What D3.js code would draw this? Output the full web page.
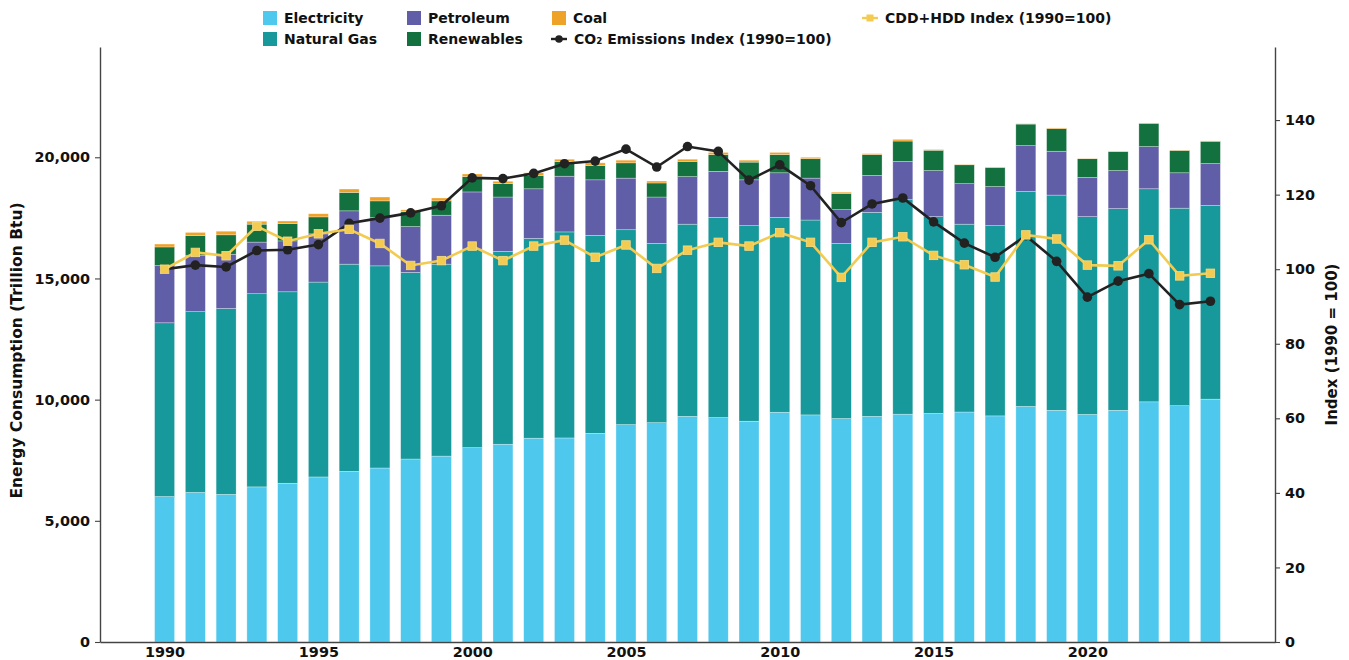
<!DOCTYPE html>
<html>
<head>
<meta charset="utf-8">
<script src="https://cdn.jsdelivr.net/npm/d3@7/dist/d3.min.js"></script>
<style>
  body { margin: 0; background: #fff; }
  svg { display: block; font-family: "DejaVu Sans", sans-serif; }
</style>
</head>
<body>
<div id="chart"></div>
<script>
const years = d3.range(1990, 2025);

// trillion Btu
const electricity = [6000, 6170, 6090, 6400, 6550, 6810, 7040, 7180, 7550, 7670,
  8020, 8160, 8410, 8420, 8610, 8970, 9050, 9310, 9260, 9110,
  9480, 9370, 9220, 9310, 9400, 9430, 9490, 9330, 9720, 9560,
  9390, 9560, 9910, 9750, 10020];
const naturalGas = [7170, 7460, 7670, 7970, 7900, 8040, 8550, 8340, 7700, 7920,
  8190, 7960, 8240, 8500, 8170, 8040, 7400, 7930, 8260, 8070,
  8040, 8040, 7230, 8420, 8850, 8120, 7750, 7850, 8870, 8880,
  8160, 8320, 8790, 8150, 7990];
const petroleum = [2360, 2330, 2240, 2130, 2100, 1990, 2200, 1990, 1890, 2020,
  2360, 2240, 2050, 2300, 2290, 2130, 1910, 1960, 1900, 1890,
  1840, 1730, 1390, 1520, 1580, 1900, 1670, 1610, 1890, 1810,
  1620, 1570, 1740, 1460, 1730];
const renewables = [770, 810, 800, 740, 710, 700, 760, 690, 620, 590,
  630, 550, 550, 600, 590, 630, 580, 630, 690, 730,
  750, 800, 670, 860, 840, 840, 780, 780, 890, 930,
  770, 780, 960, 920, 920];
const coal = [120, 130, 150, 120, 110, 130, 140, 160, 70, 120,
  110, 100, 110, 100, 110, 110, 80, 90, 90, 80,
  90, 60, 50, 40, 70, 30, 20, 30, 15, 30,
  15, 30, 15, 15, 15];

const co2Index = [100, 101.1, 100.6, 105.0, 105.2, 106.6, 112.3, 113.7, 115.1, 117.0,
  124.5, 124.3, 125.7, 128.3, 129.0, 132.2, 127.4, 132.9, 131.6, 123.9,
  128.0, 122.4, 112.5, 117.5, 119.1, 112.7, 107.0, 103.2, 109.0, 102.1,
  92.5, 96.8, 98.8, 90.5, 91.4];
const degreeDayIndex = [100, 104.5, 103.6, 111.5, 107.5, 109.5, 110.7, 106.9, 101.0, 102.3,
  106.2, 102.3, 106.2, 107.8, 103.2, 106.5, 100.2, 105.1, 107.2, 106.2,
  109.8, 107.2, 97.8, 107.2, 108.7, 103.7, 101.2, 97.9, 109.2, 108.1,
  101.1, 100.9, 107.9, 98.2, 98.9];

const seriesKeys = ["Electricity", "Natural Gas", "Petroleum", "Renewables", "Coal"];
const seriesValues = [electricity, naturalGas, petroleum, renewables, coal];
const colors = ["#4fc8ee", "#17989a", "#615ea8", "#13703f", "#efa228"];
const leftTicks = [0, 5000, 10000, 15000, 20000];
const rightTicks = [0, 20, 40, 60, 80, 100, 120, 140];
const xTicks = [1990, 1995, 2000, 2005, 2010, 2015, 2020];

const W = 1349, H = 660;
const margin = { top: 47, right: 74, bottom: 18, left: 100 };
const width = W - margin.left - margin.right;
const height = H - margin.top - margin.bottom;

const rows = years.map((y, i) => {
  const r = { year: y };
  seriesKeys.forEach((k, j) => r[k] = seriesValues[j][i]);
  return r;
});

const svg = d3.select("#chart").append("svg")
  .attr("width", W)
  .attr("height", H);

const g = svg.append("g").attr("transform", `translate(${margin.left},${margin.top})`);

const x = d3.scaleLinear().domain([1987.9, 2026.1]).range([0, width]);
const y = d3.scaleLinear().domain([0, 24550]).range([height, 0]);
const y2 = d3.scaleLinear().domain([0, 159.6]).range([height, 0]);
const barW = x(1990.65) - x(1990);

const stack = d3.stack().keys(seriesKeys)(rows);

g.selectAll("g.layer")
  .data(stack)
  .enter()
  .append("g")
  .attr("class", "layer")
  .attr("fill", (d, i) => colors[i])
  .selectAll("rect")
  .data(d => d)
  .enter()
  .append("rect")
  .attr("x", d => x(d.data.year) - barW / 2)
  .attr("y", d => y(d[1]))
  .attr("width", barW)
  .attr("height", d => y(d[0]) - y(d[1]))
  .attr("stroke", "#fff")
  .attr("stroke-opacity", 0.5)
  .attr("stroke-width", 0.6);

// index lines
const line = d3.line()
  .x((d, i) => x(years[i]))
  .y(d => y2(d));

g.append("path")
  .datum(co2Index)
  .attr("d", line)
  .attr("fill", "none")
  .attr("stroke", "#222")
  .attr("stroke-width", 2.6);

g.selectAll("circle.co2")
  .data(co2Index)
  .enter()
  .append("circle")
  .attr("class", "co2")
  .attr("cx", (d, i) => x(years[i]))
  .attr("cy", d => y2(d))
  .attr("r", 4.8)
  .attr("fill", "#222");

g.append("path")
  .datum(degreeDayIndex)
  .attr("d", line)
  .attr("fill", "none")
  .attr("stroke", "#f2cb50")
  .attr("stroke-width", 2.6);

const sq = 8.5;
g.selectAll("rect.dd")
  .data(degreeDayIndex)
  .enter()
  .append("rect")
  .attr("class", "dd")
  .attr("x", (d, i) => x(years[i]) - sq / 2)
  .attr("y", d => y2(d) - sq / 2)
  .attr("width", sq)
  .attr("height", sq)
  .attr("fill", "#f2cb50")
  .attr("stroke", "#f7dc86")
  .attr("stroke-width", 0.8);

// axes
const styleAxis = sel => {
  sel.attr("font-family", "DejaVu Sans");
  sel.selectAll("path").attr("stroke", "#444").attr("stroke-width", 1.4);
  sel.selectAll("line").attr("stroke", "#444").attr("stroke-width", 1.1);
  sel.selectAll("text")
    .attr("fill", "#111")
    .style("font-family", "'DejaVu Sans', sans-serif")
    .style("font-size", "14.4px")
    .style("font-weight", "bold");
};

g.append("g")
  .attr("transform", `translate(0,${height})`)
  .call(d3.axisBottom(x).tickValues(xTicks).tickFormat(d3.format("d")).tickSize(0).tickPadding(5).tickSizeOuter(0))
  .call(styleAxis);

g.append("g")
  .call(d3.axisLeft(y).tickValues(leftTicks).tickFormat(d3.format(",")).tickSize(5).tickPadding(5).tickSizeOuter(0))
  .call(styleAxis);

g.append("g")
  .attr("transform", `translate(${width},0)`)
  .call(d3.axisRight(y2).tickValues(rightTicks).tickSize(5).tickPadding(5).tickSizeOuter(0))
  .call(styleAxis);

g.append("text")
  .attr("transform", `translate(-78,${height / 2 + 6}) rotate(-90)`)
  .attr("text-anchor", "middle")
  .style("font-size", "15.5px")
  .style("font-weight", "bold")
  .attr("fill", "#111")
  .text("Energy Consumption (Trillion Btu)");

g.append("text")
  .attr("transform", `translate(${width + 62},${height / 2}) rotate(-90)`)
  .attr("text-anchor", "middle")
  .style("font-size", "15px")
  .style("font-weight", "bold")
  .attr("fill", "#111")
  .text("Index (1990 = 100)");

// legend, column-major like the original
const legendItems = [
  { label: "Electricity", type: "box", color: colors[0], x: 263, y: 18 },
  { label: "Natural Gas", type: "box", color: colors[1], x: 263, y: 39 },
  { label: "Petroleum", type: "box", color: colors[2], x: 407, y: 18 },
  { label: "Renewables", type: "box", color: colors[3], x: 407, y: 39 },
  { label: "Coal", type: "box", color: colors[4], x: 552, y: 18 },
  { label: "CO₂ Emissions Index (1990=100)", type: "circle", color: "#222", x: 551, y: 39 },
  { label: "CDD+HDD Index (1990=100)", type: "square", color: "#f2cb50", x: 862, y: 18 }
];

const legend = svg.append("g");
legendItems.forEach(it => {
  const lg = legend.append("g").attr("transform", `translate(${it.x},${it.y})`);
  if (it.type === "box") {
    lg.append("rect").attr("x", 0).attr("y", -7).attr("width", 14).attr("height", 14).attr("fill", it.color);
  } else {
    lg.append("line").attr("x1", 0).attr("x2", 16).attr("y1", 0).attr("y2", 0)
      .attr("stroke", it.color).attr("stroke-width", 2.4);
    if (it.type === "circle") {
      lg.append("circle").attr("cx", 8).attr("cy", 0).attr("r", 3.8).attr("fill", it.color);
    } else {
      lg.append("rect").attr("x", 4.5).attr("y", -3.5).attr("width", 7).attr("height", 7).attr("fill", it.color);
    }
  }
  lg.append("text")
    .attr("x", it.type === "box" ? 21 : 23)
    .attr("y", 5)
    .style("font-size", "14px")
    .style("font-weight", "bold")
    .attr("fill", "#111")
    .text(it.label);
});
</script>
</body>
</html>
